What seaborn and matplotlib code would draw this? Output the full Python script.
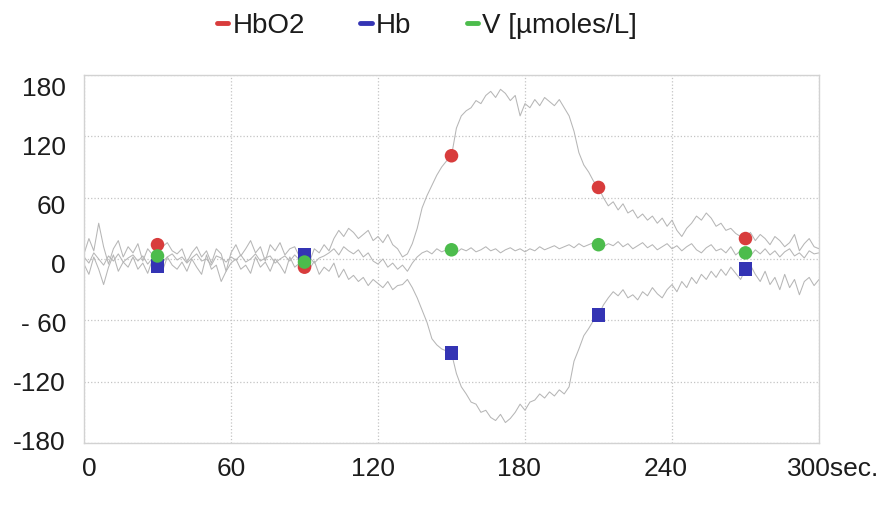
import numpy as np
import pandas as pd
import matplotlib
matplotlib.use("Agg")
import matplotlib.pyplot as plt
import seaborn as sns
from matplotlib.lines import Line2D
from matplotlib.transforms import ScaledTranslation

# Sampling instants (s) of the NIRS recording, one reading every 2 s
time_s = np.arange(0, 301, 2)

# Oxy-haemoglobin change [µmol/L]
hbo2 = [
    5, 20, 8, 35, 12, -5, 10, 18, 2, 12,
    6, 15, -2, 10, 4, 14, 12, 16, 8, 5,
    10, -3, 6, 12, 2, 8, -4, 10, 5, -12,
    6, 14, 3, 10, 18, 6, 12, -2, 14, 8,
    16, 4, 10, 12, 2, -8, -3, 10, 6, 14,
    8, 20, 28, 22, 30, 26, 20, 24, 28, 18,
    22, 16, 24, 14, 10, 2, 5, 15, 30, 50,
    62, 72, 82, 90, 96, 101, 128, 140, 145, 148,
    155, 152, 160, 164, 158, 166, 162, 155, 160, 140,
    152, 148, 156, 150, 158, 154, 150, 156, 148, 140,
    125, 104, 92, 85, 76, 70, 60, 52, 56, 48,
    54, 45, 48, 40, 44, 38, 42, 35, 40, 32,
    38, 28, 22, 30, 35, 42, 38, 45, 40, 32,
    35, 28, 30, 25, 22, 20, 26, 18, 24, 20,
    14, 22, 18, 12, 16, 24, 8, 15, 20, 12,
    10,
]

# Deoxy-haemoglobin change [µmol/L]
hb = [
    -5, -15, 2, -10, -25, -8, 4, -12, -3, -8,
    2, -10, -4, -14, 0, -7, -12, 2, -6, -10,
    -3, -12, 0, -8, -15, 4, -10, -6, -22, -12,
    -4, 0, -10, -6, -14, 2, -8, -3, -12, 0,
    -6, -14, 2, -8, -4, 4, -10, -2, -15, -8,
    -12, -4, -18, -10, -20, -16, -22, -18, -26, -20,
    -24, -28, -22, -30, -26, -25, -20, -28, -38, -50,
    -62, -78, -84, -88, -90, -92, -112, -125, -132, -140,
    -142, -150, -148, -155, -158, -152, -160, -156, -150, -142,
    -148, -140, -138, -132, -136, -130, -134, -128, -132, -125,
    -100, -88, -75, -68, -60, -55, -45, -38, -32, -36,
    -30, -38, -35, -40, -32, -36, -28, -34, -38, -30,
    -25, -32, -22, -28, -18, -24, -15, -20, -12, -18,
    -10, -16, -8, -14, -20, -10, -6, -15, -22, -12,
    -25, -18, -30, -15, -28, -20, -35, -22, -18, -26,
    -20,
]

# Blood volume change [µmol/L]
vol = [
    2, -4, 6, 0, -6, 3, -2, 5, -3, 1,
    4, -2, 3, -5, 1, 3, -3, 2, 5, -1,
    2, -4, 1, 5, -2, 0, -6, 3, 1, -3,
    2, -1, 4, -3, 0, 5, -2, 1, 3, -4,
    0, 3, -2, 4, -1, -3, 2, -4, 1, 3,
    6, 10, 4, 12, 8, 5, 9, 2, 6, -2,
    -5, 0, -8, -4, -10, -6, -12, -4, 2, 6,
    8, 5, 10, 7, 9, 9, 6, 10, 8, 11,
    7, 9, 12, 8, 10, 6, 9, 11, 8, 10,
    7, 10, 8, 12, 9, 11, 13, 10, 12, 14,
    11, 15, 12, 14, 16, 14, 12, 15, 13, 17,
    12, 15, 10, 13, 16, 11, 14, 9, 12, 15,
    10, 13, 8, 12, 15, 9, 6, 11, 14, 8,
    10, 6, 12, 4, 8, 6, 3, 9, 5, 10,
    4, 8, 2, 7, 10, 3, 6, 1, 8, 5,
    6,
]

series_names = ["HbO2", "Hb", "V [µmoles/L]"]
series_colors = ["#d83c3c", "#3434b4", "#4cbc4c"]
series_markers = ["o", "s", "o"]
marker_times = [30, 90, 150, 210, 270]

x_ticks = [0, 60, 120, 180, 240, 300]
x_labels = ["0", "60", "120", "180", "240", "300sec."]
y_ticks = [180, 120, 60, 0, -60, -120, -180]
y_labels = ["180", "120", "60", "0", "- 60", "-120", "-180"]

df = pd.DataFrame({"t": time_s, "HbO2": hbo2, "Hb": hb, "V [µmoles/L]": vol})
long = df.melt(id_vars="t", var_name="series", value_name="value")
marks = long[long["t"].isin(marker_times)]

sns.set_theme(style="white")
plt.rcParams["font.family"] = ["Liberation Sans", "DejaVu Sans"]

fig = plt.figure(figsize=(8.86, 5.08), dpi=100)
ax = fig.add_axes([84 / 886, 1 - 443 / 508, 735 / 886, 368 / 508])

# Raw traces in light grey
for name in series_names:
    sns.lineplot(data=long[long["series"] == name], x="t", y="value",
                 color="#b6b6b6", lw=0.75, ax=ax, legend=False)

# Coloured sample markers every 60 s
sns.scatterplot(data=marks, x="t", y="value", hue="series", style="series",
                hue_order=series_names, style_order=series_names,
                palette=dict(zip(series_names, series_colors)),
                markers=dict(zip(series_names, series_markers)),
                s=95, linewidth=0, ax=ax, legend=False, zorder=5)

ax.set_xlim(0, 300)
ax.set_ylim(-180, 180)
ax.set_xlabel("")
ax.set_ylabel("")
ax.set_xticks(x_ticks)
ax.set_xticklabels(x_labels)
ax.set_yticks(y_ticks)
ax.set_yticklabels(y_labels)
ax.tick_params(length=0, labelsize=19, colors="#1c1c1c")
ax.tick_params(axis="y", pad=13)
ax.tick_params(axis="x", pad=10)

ax.grid(True, linestyle=":", color="#c4c4c4", lw=0.9)
for sp in ax.spines.values():
    sp.set_color("#d2d2d2")
    sp.set_linewidth(1.0)

# Nudge the tick labels slightly, as laid out in the original printout
for lbl, v in zip(ax.get_yticklabels(), y_ticks):
    dy = -(4.5 + 7.5 * v / 180) / 100
    lbl.set_transform(lbl.get_transform() + ScaledTranslation(0, dy, fig.dpi_scale_trans))
for lbl, dx in zip(ax.get_xticklabels(), [5, 0, -5, -6, -6, 14]):
    lbl.set_transform(lbl.get_transform() + ScaledTranslation(dx / 100, 0, fig.dpi_scale_trans))

handles = [Line2D([], [], color=c, lw=3.5) for c in series_colors]
fig.legend(handles, series_names, loc="center", bbox_to_anchor=(0.482, 1 - 26 / 508),
           ncol=3, frameon=False, fontsize=20, handlelength=0.4, handletextpad=0.15,
           columnspacing=2.0, labelcolor="#1c1c1c")

fig.savefig("out.png", dpi=100, facecolor="white")
